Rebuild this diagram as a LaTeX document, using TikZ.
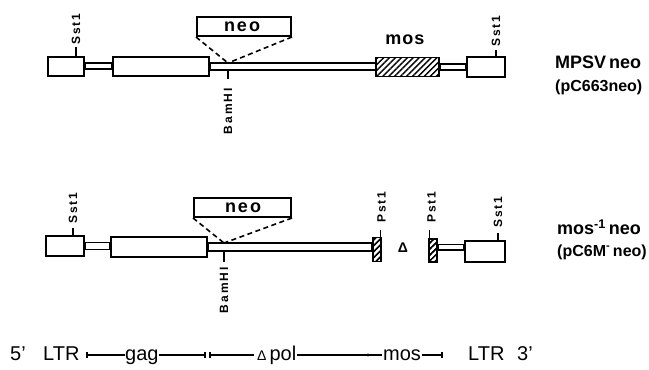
\documentclass[tikz,border=0pt]{standalone}
\usepackage{fontspec}
\setmainfont{Liberation Sans}
\usetikzlibrary{patterns.meta,calc}
\newcommand\sitefont{\bfseries\fontsize{12}{12}\selectfont}
\begin{document}
\begin{tikzpicture}[x=1pt,y=-1pt,
  box/.style={draw, line width=2pt, fill=white, inner sep=0pt},
  tube/.style={draw, line width=1.6pt, fill=white},
  hatchbox/.style={draw, line width=1.9pt, inner sep=0pt,
    pattern={Lines[angle=45,distance=4.2pt,line width=1.4pt]}},
  sitetick/.style={line width=1.6pt},
  sitelbl/.style={font=\sitefont, inner sep=0pt, rotate=90},
  dashline/.style={line width=1.6pt, dash pattern=on 5pt off 3.5pt},
  neolbl/.style={font=\bfseries\fontsize{18}{18}\selectfont, inner sep=0pt},
  namelbl/.style={font=\bfseries\fontsize{18}{18}\selectfont, inner sep=0pt, anchor=west},
  sublbl/.style={font=\bfseries\fontsize{16}{16}\selectfont, inner sep=0pt, anchor=west},
  maptxt/.style={font=\fontsize{20}{20}\selectfont, inner sep=0pt, anchor=base west},
  mapline/.style={line width=1.3pt},
]
\useasboundingbox (0,0) rectangle (649,370);

% ---------------- Row 1: MPSV neo ----------------
\node[box, minimum width=36, minimum height=19] (ltrL1) at (66,66) {};
\node[box, minimum width=96, minimum height=19] (gag1) at (161,66) {};
\node[hatchbox, minimum width=63, minimum height=19] (mos1) at (407.5,67) {};
\node[box, minimum width=38, minimum height=20] (ltrR1) at (486,67) {};
\draw[tube] ($(ltrL1.east)+(0,-3)$) rectangle ($(gag1.west)+(0,3)$);
\draw[tube] ($(gag1.east)+(0,-3)$) rectangle ($(mos1.west)+(0,3)$);
\draw[tube] ($(mos1.east)+(0,-3)$) rectangle ($(ltrR1.west)+(0,3)$);

\node[box, minimum width=94, minimum height=19] (neo1) at (244,26.5) {};
\node[neolbl] (neo1t) at (242,27) {n\kern2pt e\kern2pt o};
\coordinate (ins1) at (228,63);
\draw[dashline] (neo1.south west) -- (ins1);
\draw[dashline] (neo1.south east) -- (ins1);
\node[neolbl] (mos1t) at (405,40) {m\kern1pt o\kern1pt s};

% sites row 1
\coordinate (s1a) at (76,47);
\draw[sitetick] (ltrL1.north -| s1a) -- (s1a);
\node[sitelbl, anchor=west] (s1al) at ($(s1a)+(0,-2)$) {S\kern2pt s\kern2pt t\kern2pt 1};
\coordinate (s1b) at (496,50);
\draw[sitetick] (ltrR1.north -| s1b) -- (s1b);
\node[sitelbl, anchor=west] (s1bl) at ($(s1b)+(0,-3)$) {S\kern2pt s\kern2pt t\kern2pt 1};
\coordinate (b1) at (228,79);
\draw[sitetick] (228,69) -- (b1);
\node[sitelbl, anchor=east] (b1l) at ($(b1)+(0,9)$) {B\kern2pt a\kern2pt m\kern2pt H\kern2pt I};

\node[namelbl] (name1) at (555,62) {MPSV\,neo};
\node[sublbl] (sub1) at (555,87) {(pC663neo)};

% ---------------- Row 2: mos-1 neo ----------------
\node[box, minimum width=38, minimum height=20] (ltrL2) at (65,246) {};
\node[box, minimum width=96, minimum height=20] (gag2) at (159,247) {};
\node[hatchbox, minimum width=8, minimum height=24] (hL) at (377,249.5) {};
\node[hatchbox, minimum width=8, minimum height=23] (hR) at (433,250.5) {};
\node[box, minimum width=40, minimum height=21] (ltrR2) at (485,251) {};
\draw[tube] ($(ltrL2.east)+(0,-3.5)$) rectangle ($(gag2.west)+(0,2.5)$);
\draw[tube] ($(gag2.east)+(0,-4)$) rectangle ($(hL.west)+(0,1.5)$);
\draw[tube] ($(hR.east)+(0,-6)$) rectangle ($(ltrR2.west)+(0,-1)$);
\node[hatchbox, minimum width=8, minimum height=24] at (hL) {};
\node[hatchbox, minimum width=8, minimum height=23] at (hR) {};

\node[box, minimum width=97, minimum height=19] (neo2) at (242.5,207.5) {};
\node[neolbl] (neo2t) at (243,207.5) {n\kern2pt e\kern2pt o};
\coordinate (ins2) at (224,243);
\draw[dashline] (neo2.south west) -- (ins2);
\draw[dashline] (neo2.south east) -- (ins2);

\node[inner sep=0pt, font=\bfseries\fontsize{14}{14}\selectfont] (delta) at (403,248) {Δ};

% sites row 2
\coordinate (s2a) at (73,228);
\draw[sitetick] (ltrL2.north -| s2a) -- (s2a);
\node[sitelbl, anchor=west] (s2al) at ($(s2a)+(0,-4)$) {S\kern2pt s\kern2pt t\kern2pt 1};
\coordinate (s2b) at (498,233);
\draw[sitetick] (ltrR2.north -| s2b) -- (s2b);
\node[sitelbl, anchor=west] (s2bl) at ($(s2b)+(0,-5)$) {S\kern2pt s\kern2pt t\kern2pt 1};
\coordinate (p2a) at (380.5,230);
\draw[sitetick] (hL.north -| p2a) -- (p2a);
\node[sitelbl, anchor=west] (p2al) at ($(p2a)+(1,-7)$) {P\kern2pt s\kern2pt t\kern2pt 1};
\coordinate (p2b) at (429.5,230);
\draw[sitetick] (hR.north -| p2b) -- (p2b);
\node[sitelbl, anchor=west] (p2bl) at ($(p2b)+(2,-7)$) {P\kern2pt s\kern2pt t\kern2pt 1};
\coordinate (b2) at (224,262);
\draw[sitetick] (224,250.5) -- (b2);
\node[sitelbl, anchor=east] (b2l) at ($(b2)+(0,5)$) {B\kern2pt a\kern2pt m\kern2pt H\kern2pt I};

\node[namelbl] (name2) at (557,227) {mos\textsuperscript{-1}\,neo};
\node[sublbl] (sub2) at (557,252) {(pC6M\textsuperscript{-}\,neo)};

% ---------------- Bottom map ----------------
\node[maptxt] (t5) at (10,360) {5’};
\node[maptxt] (tltr1) at (43,360) {LTR};
\node[maptxt] (tgag) at (125,360) {gag};
\node[maptxt] (tpol) at (257,360) {{\fontsize{14}{14}\selectfont Δ}\kern3pt pol};
\node[maptxt] (tmos) at (383,360) {mos};
\node[maptxt] (tltr2) at (468,360) {LTR};
\node[maptxt] (t3) at (517,360) {3’};

\coordinate (m1) at (87,355);
\coordinate (m2) at (205,355);
\coordinate (m3) at (210,355);
\coordinate (m4) at (368,355);
\coordinate (m5) at (442,355);
\draw[mapline] (m1) -- (m1 -| tgag.west);
\draw[mapline] (m1) ++(0,-3) -- ++(0,6);
\draw[mapline] (m2 -| tgag.east) -- (m2);
\draw[mapline] (m2) ++(0,-3) -- ++(0,6);
\draw[mapline] (m3) -- ($(m3 -| tpol.west)+(-3,0)$);
\draw[mapline] (m3) ++(0,-3) -- ++(0,6);
\draw[mapline] ($(m4 -| tpol.east)+(1,0)$) -- ($(m4 -| tmos.west)+(-1,0)$);
\fill (m4) circle (1.7pt);
\draw[mapline] ($(m5 -| tmos.east)+(1,0)$) -- (m5);
\draw[mapline] (m5) ++(0,-3) -- ++(0,6);
\end{tikzpicture}
\end{document}
